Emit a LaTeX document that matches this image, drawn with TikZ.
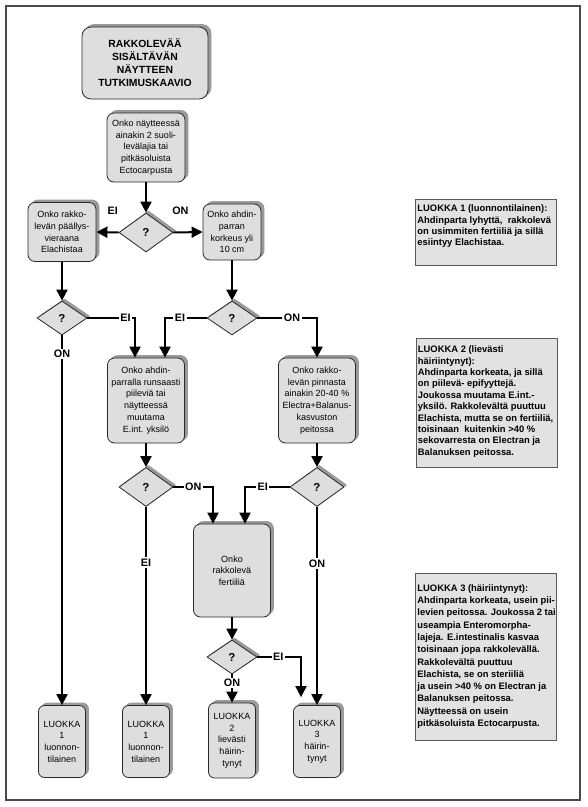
\documentclass[tikz,border=0pt]{standalone}
\usepackage{fontspec}
\setmainfont{Liberation Sans}
\usetikzlibrary{shapes.geometric,arrows.meta,shadows}
\definecolor{boxfill}{HTML}{DEDEDE}
\definecolor{shad}{HTML}{9A9A9A}
\definecolor{edge}{HTML}{2A2A2A}
\definecolor{framec}{HTML}{4A4A4A}
\definecolor{rfill}{HTML}{E2E2E2}
\definecolor{redge}{HTML}{5A5A5A}
\begin{document}
\begin{tikzpicture}[x=1pt,y=-1pt,
  flow/.style={draw=edge, line width=0.8pt, fill=boxfill, rounded corners=7pt, inner sep=0pt, align=center,
    font=\fontsize{9}{11.7}\selectfont,
    copy shadow={shadow xshift=3pt, shadow yshift=2.5pt, fill=shad, draw=shad}},
  leaf/.style={flow, rounded corners=6pt, minimum width=47pt, minimum height=72pt},
  dec/.style={diamond, draw=edge, line width=0.8pt, fill=boxfill, inner sep=0pt,
    font=\bfseries\fontsize{11.5}{13}\selectfont,
    copy shadow={shadow xshift=2.5pt, shadow yshift=2pt, fill=shad, draw=shad}},
  bigdec/.style={dec, minimum width=54pt, minimum height=39pt},
  smalldec/.style={dec, minimum width=50pt, minimum height=34pt},
  arr/.style={line width=2pt, -{Triangle[length=11pt,width=11pt]}},
  lab/.style={font=\bfseries\fontsize{10.8}{12}\selectfont, fill=white, inner sep=1.5pt},
  labf/.style={font=\bfseries\fontsize{10.8}{12}\selectfont, inner sep=1.5pt},
  rbox/.style={draw=redge, line width=0.9pt, fill=rfill, inner xsep=2pt, inner ysep=0pt, anchor=north west,
    font=\bfseries\fontsize{9.4}{11.4}\selectfont},
  frameline/.style={draw=framec, line width=1.2pt}
]
\useasboundingbox (0,0) rectangle (588,807);
\draw[frameline] (6,6) rectangle (580,800);

% flow nodes
\node[flow, rounded corners=9pt, minimum width=126pt, minimum height=72pt,
  font=\bfseries\fontsize{10.4}{13}\selectfont] (title) at (145,63)
  {RAKKOLEVÄÄ\\SISÄLTÄVÄN\\NÄYTTEEN\\TUTKIMUSKAAVIO};
\node[flow, minimum width=78pt, minimum height=69pt] (q1) at (146,147.5)
  {Onko näytteessä\\ainakin 2 suoli-\\levälajia tai\\pitkäsoluista\\Ectocarpusta};
\node[bigdec] (d1) at (146,232.5) {?};
\node[flow, minimum width=68pt, minimum height=59pt] (q2) at (62,232)
  {Onko rakko-\\levän päällys-\\vieraana\\Elachistaa};
\node[flow, minimum width=58pt, minimum height=56pt] (q3) at (232,232)
  {Onko ahdin-\\parran\\korkeus yli\\10 cm};
\node[smalldec] (d2) at (62,318) {?};
\node[smalldec] (d3) at (232,318) {?};
\node[flow, minimum width=77pt, minimum height=85pt] (q4) at (146,400.5)
  {Onko ahdin-\\parralla runsaasti\\piileviä tai\\näytteessä\\muutama\\E.int. yksilö};
\node[flow, minimum width=77pt, minimum height=85pt] (q5) at (317,400.5)
  {Onko rakko-\\levän pinnasta\\ainakin 20-40 \%\\Electra+Balanus-\\kasvuston\\peitossa};
\node[bigdec] (d4) at (146,487) {?};
\node[bigdec] (d5) at (317,487) {?};
\node[flow, minimum width=77pt, minimum height=93pt] (q6) at (232,570.5)
  {Onko\\rakkolevä\\fertiiliä};
\node[smalldec] (d6) at (232,657) {?};

\node[leaf] (c1a) at (62,741.5) {LUOKKA\\1\\luonnon-\\tilainen};
\node[leaf] (c1b) at (146,741.5) {LUOKKA\\1\\luonnon-\\tilainen};
\node[leaf, minimum height=75pt] (c2) at (232,740.5) {LUOKKA\\2\\lievästi\\häirin-\\tynyt};
\node[leaf] (c3) at (317,741.5) {LUOKKA\\3\\häirin-\\tynyt};

% connectors
\draw[arr] (q1) -- (d1);
\draw[arr] (d1.west) -- node[labf, pos=0.26, yshift=22pt]{EI} (q2.east);
\draw[arr] (d1.east) -- node[labf, pos=0.24, yshift=22pt]{ON} (q3.west);
\draw[arr] (q2) -- (d2);
\draw[arr] (q3) -- (d3);
\draw[arr] (d2.east) -| node[lab, pos=0.4]{EI} ([xshift=-11pt]q4.north);
\draw[arr] (d3.west) -| node[lab, pos=0.32]{EI} ([xshift=19pt]q4.north);
\draw[arr] (d3.east) -| node[lab, pos=0.29]{ON} (q5.north);
\draw[arr] (d2) -- node[lab, pos=0.05]{ON} (c1a);
\draw[arr] (q4) -- (d4);
\draw[arr] (q5) -- (d5);
\draw[arr] (d4.east) -| node[lab, pos=0.25]{ON} ([xshift=-19pt]q6.north);
\draw[arr] (d5.west) -| node[lab, pos=0.3]{EI} ([xshift=13pt]q6.north);
\draw[arr] (d4) -- node[lab, pos=0.28]{EI} (c1b);
\draw[arr] (d5) -- node[lab, pos=0.285]{ON} (c3);
\draw[arr] (q6) -- (d6);
\draw[arr] (d6.east) -| node[lab, pos=0.24]{EI} ([xshift=-16pt,yshift=8pt]c3.north);
\draw[arr] (d6) -- node[lab, pos=0.3]{ON} (c2);

% right-hand class descriptions
\node[rbox] (r1) at (415,199) {\parbox[t][66pt][t]{137pt}{\vspace*{5.5pt}%
\mbox{LUOKKA 1 (luonnontilainen):}\\
\mbox{Ahdinparta lyhyttä,~~rakkolevä}\\
\mbox{on usimmiten fertiiliä ja sillä}\\
\mbox{esiintyy Elachistaa.}}};
\node[rbox] (r2) at (415.5,338) {\parbox[t][129pt][t]{137pt}{\vspace*{7.5pt}%
\mbox{LUOKKA 2 (lievästi}\\
\mbox{häiriintynyt):}\\
\mbox{Ahdinparta korkeata, ja sillä}\\
\mbox{on piilevä- epifyyttejä.}\\
\mbox{Joukossa muutama E.int.-}\\
\mbox{yksilö. Rakkolevältä puuttuu}\\
\mbox{Elachista, mutta se on fertiiliä,}\\
\mbox{toisinaan~~kuitenkin >40 \%}\\
\mbox{sekovarresta on Electran ja}\\
\mbox{Balanuksen peitossa.}}};
\node[rbox, font=\bfseries\fontsize{9.4}{12.3}\selectfont] (r3) at (415,573) {\parbox[t][167pt][t]{137pt}{\vspace*{11pt}%
\mbox{LUOKKA 3 (häiriintynyt):}\\
\mbox{Ahdinparta korkeata, usein pii-}\\
\mbox{levien peitossa. Joukossa 2 tai}\\
\mbox{useampia Enteromorpha-}\\
\mbox{lajeja. E.intestinalis kasvaa}\\
\mbox{toisinaan jopa rakkolevällä.}\\
\mbox{Rakkolevältä puuttuu}\\
\mbox{Elachista, se on steriiliä}\\
\mbox{ja usein >40 \% on Electran ja}\\
\mbox{Balanuksen peitossa.}\\
\mbox{Näytteessä on usein}\\
\mbox{pitkäsoluista Ectocarpusta.}}};
\end{tikzpicture}
\end{document}
